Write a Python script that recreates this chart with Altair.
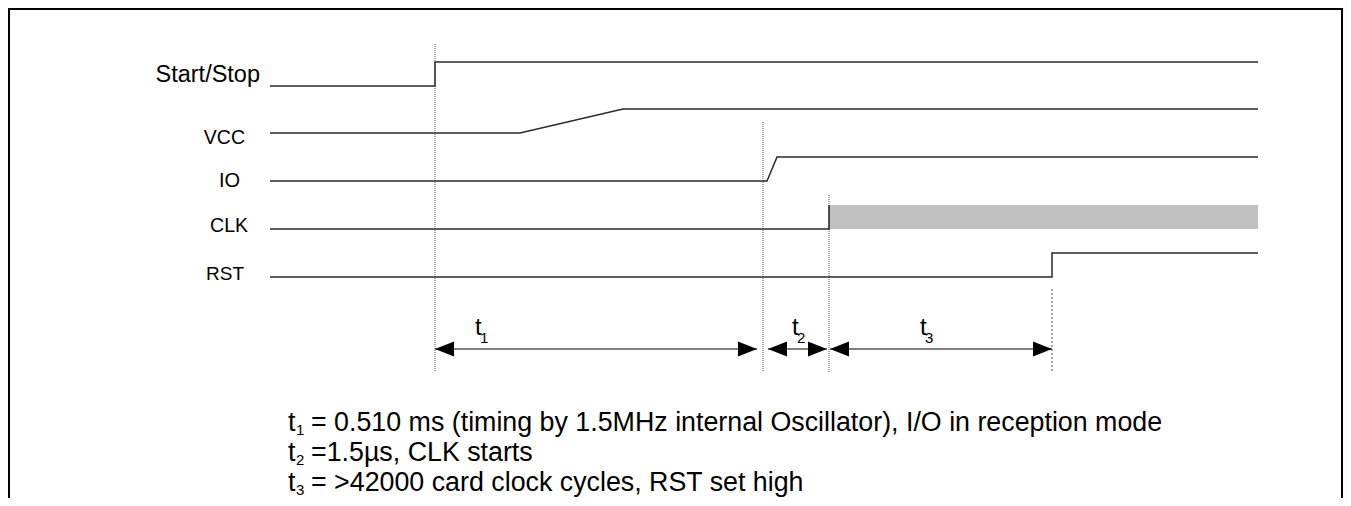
import altair as alt
import pandas as pd

# ---------------- data (diagram units) ----------------
signal_names = ["Start/Stop", "VCC", "IO", "CLK", "RST"]

# waveform breakpoints: time position and logic level (0 = low, 1 = high)
start_stop_t = [270, 435, 435, 1258]
start_stop_lvl = [0, 0, 1, 1]
vcc_t = [270, 520, 623, 1258]
vcc_lvl = [0, 0, 1, 1]
io_t = [270, 767, 777, 1258]
io_lvl = [0, 0, 1, 1]
clk_t = [270, 829, 829]
clk_lvl = [0, 0, 1]
clk_active = [829, 1258]          # clock running interval
rst_t = [270, 1052, 1052, 1258]
rst_lvl = [0, 0, 1, 1]

# timing markers and intervals
marker_t = [435, 763, 829, 1052]
interval_start = [435, 768, 830]
interval_end = [757, 827, 1052]
interval_names = ["1", "2", "3"]

note_subs = ["1", "2", "3"]
note_texts = [
    "= 0.510 ms (timing by 1.5MHz internal Oscillator), I/O in reception mode",
    "=1.5\u00b5s, CLK starts",
    "= >42000 card clock cycles, RST set high",
]

# ---------------- layout ----------------
row_base = [86, 133, 181, 229, 277]
amp = 24
label_right = [260, 245, 240, 248, 244]
label_base = [82, 144, 187, 232, 280]
label_size = [23.5, 19.5, 20, 19.5, 19]
marker_top = [44, 122, 195, 289]
marker_bot = [372, 371, 373, 372]
marker_dash = [[1, 1], [1, 1], [1, 1], [2, 2]]
arrow_y = 349
tlabel_x = [475, 792, 920]
note_base = [431, 461, 491]

W, H = 1335, 490
X0, Y0 = 8, 8

waves = [(start_stop_t, start_stop_lvl), (vcc_t, vcc_lvl), (io_t, io_lvl),
         (clk_t, clk_lvl), (rst_t, rst_lvl)]
rows = []
for i, (ts, ls) in enumerate(waves):
    for k, (t, l) in enumerate(zip(ts, ls)):
        rows.append({"signal": signal_names[i], "order": k, "x": t,
                     "y": row_base[i] - amp * l})
wave_df = pd.DataFrame(rows)

X = alt.Scale(domain=[X0, X0 + W], nice=False, zero=False)
Y = alt.Scale(domain=[Y0, Y0 + H], reverse=True, nice=False, zero=False)


def xq(f):
    return alt.X(f, type="quantitative", scale=X, axis=None)


def yq(f):
    return alt.Y(f, type="quantitative", scale=Y, axis=None)


layers = []

# frame
frame_df = pd.DataFrame([{"x": X0 + 1, "x2": X0 + W - 1, "y": Y0 + 1, "y2": Y0 + H + 20}])
layers.append(alt.Chart(frame_df).mark_rect(fill=None, stroke="black", strokeWidth=2).encode(
    x=xq("x"), x2="x2", y=yq("y"), y2="y2"))

# clock active band
clk_i = signal_names.index("CLK")
band_df = pd.DataFrame([{"x": clk_active[0], "x2": clk_active[1],
                         "y": row_base[clk_i] - amp, "y2": row_base[clk_i]}])
layers.append(alt.Chart(band_df).mark_rect(fill="#c0c0c0", stroke=None).encode(
    x=xq("x"), x2="x2", y=yq("y"), y2="y2"))

# marker lines
for i in range(len(marker_t)):
    mdf = pd.DataFrame([{"x": marker_t[i], "y": marker_top[i], "y2": marker_bot[i]}])
    layers.append(alt.Chart(mdf).mark_rule(color="#555555", strokeWidth=1,
                                           strokeDash=marker_dash[i]).encode(
        x=xq("x"), y=yq("y"), y2="y2"))

# waveforms
layers.append(alt.Chart(wave_df).mark_line(color="#2a2a2a", strokeWidth=1.5).encode(
    x=xq("x"), y=yq("y"), detail="signal:N", order="order:Q"))

# signal labels
lab_df = pd.DataFrame({"name": signal_names, "x": label_right, "y": label_base})
for i in range(len(signal_names)):
    layers.append(alt.Chart(lab_df.iloc[[i]]).mark_text(
        align="right", baseline="alphabetic", font="Liberation Sans",
        fontSize=label_size[i], color="black").encode(x=xq("x"), y=yq("y"), text="name:N"))

# interval arrows
arr_df = pd.DataFrame({"x": interval_start, "x2": interval_end, "y": [arrow_y] * 3,
                       "name": interval_names})
layers.append(alt.Chart(arr_df).mark_rule(color="black", strokeWidth=1.2).encode(
    x=xq("x"), x2="x2", y=yq("y")))
layers.append(alt.Chart(arr_df).mark_point(shape="M0,0L2,-0.79L2,0.79Z", filled=True,
                                           fill="black", stroke=None, opacity=1, size=361).encode(
    x=xq("x"), y=yq("y")))
layers.append(alt.Chart(arr_df).mark_point(shape="M0,0L-2,-0.79L-2,0.79Z", filled=True,
                                           fill="black", stroke=None, opacity=1, size=361).encode(
    x=xq("x2"), y=yq("y")))

# interval labels t_n
tl_df = pd.DataFrame({"x": tlabel_x, "y": [335] * 3, "name": interval_names})
layers.append(alt.Chart(tl_df).mark_text(align="left", baseline="alphabetic",
                                         font="Liberation Sans", fontSize=24, color="black",
                                         text="t").encode(x=xq("x"), y=yq("y")))
layers.append(alt.Chart(tl_df).mark_text(align="left", baseline="alphabetic", dx=5, dy=8,
                                         font="Liberation Sans", fontSize=15, color="black").encode(
    x=xq("x"), y=yq("y"), text="name:N"))

# notes
note_df = pd.DataFrame({"sub": note_subs, "txt": note_texts, "y": note_base, "x": [288] * 3})
layers.append(alt.Chart(note_df).mark_text(align="left", baseline="alphabetic",
                                           font="Liberation Sans", fontSize=26.8, color="black",
                                           text="t").encode(x=xq("x"), y=yq("y")))
layers.append(alt.Chart(note_df).mark_text(align="left", baseline="alphabetic", dx=8, dy=4,
                                           font="Liberation Sans", fontSize=15, color="black").encode(
    x=xq("x"), y=yq("y"), text="sub:N"))
layers.append(alt.Chart(note_df).mark_text(align="left", baseline="alphabetic", dx=23,
                                           font="Liberation Sans", fontSize=26.8, color="black").encode(
    x=xq("x"), y=yq("y"), text="txt:N"))

chart = alt.layer(*layers).properties(
    width=W, height=H, padding=0,
    autosize=alt.AutoSizeParams(type="none"),
).configure_view(stroke=None).configure(background="white")

chart.save("out.html", embed_options={"renderer": "svg", "actions": False})
